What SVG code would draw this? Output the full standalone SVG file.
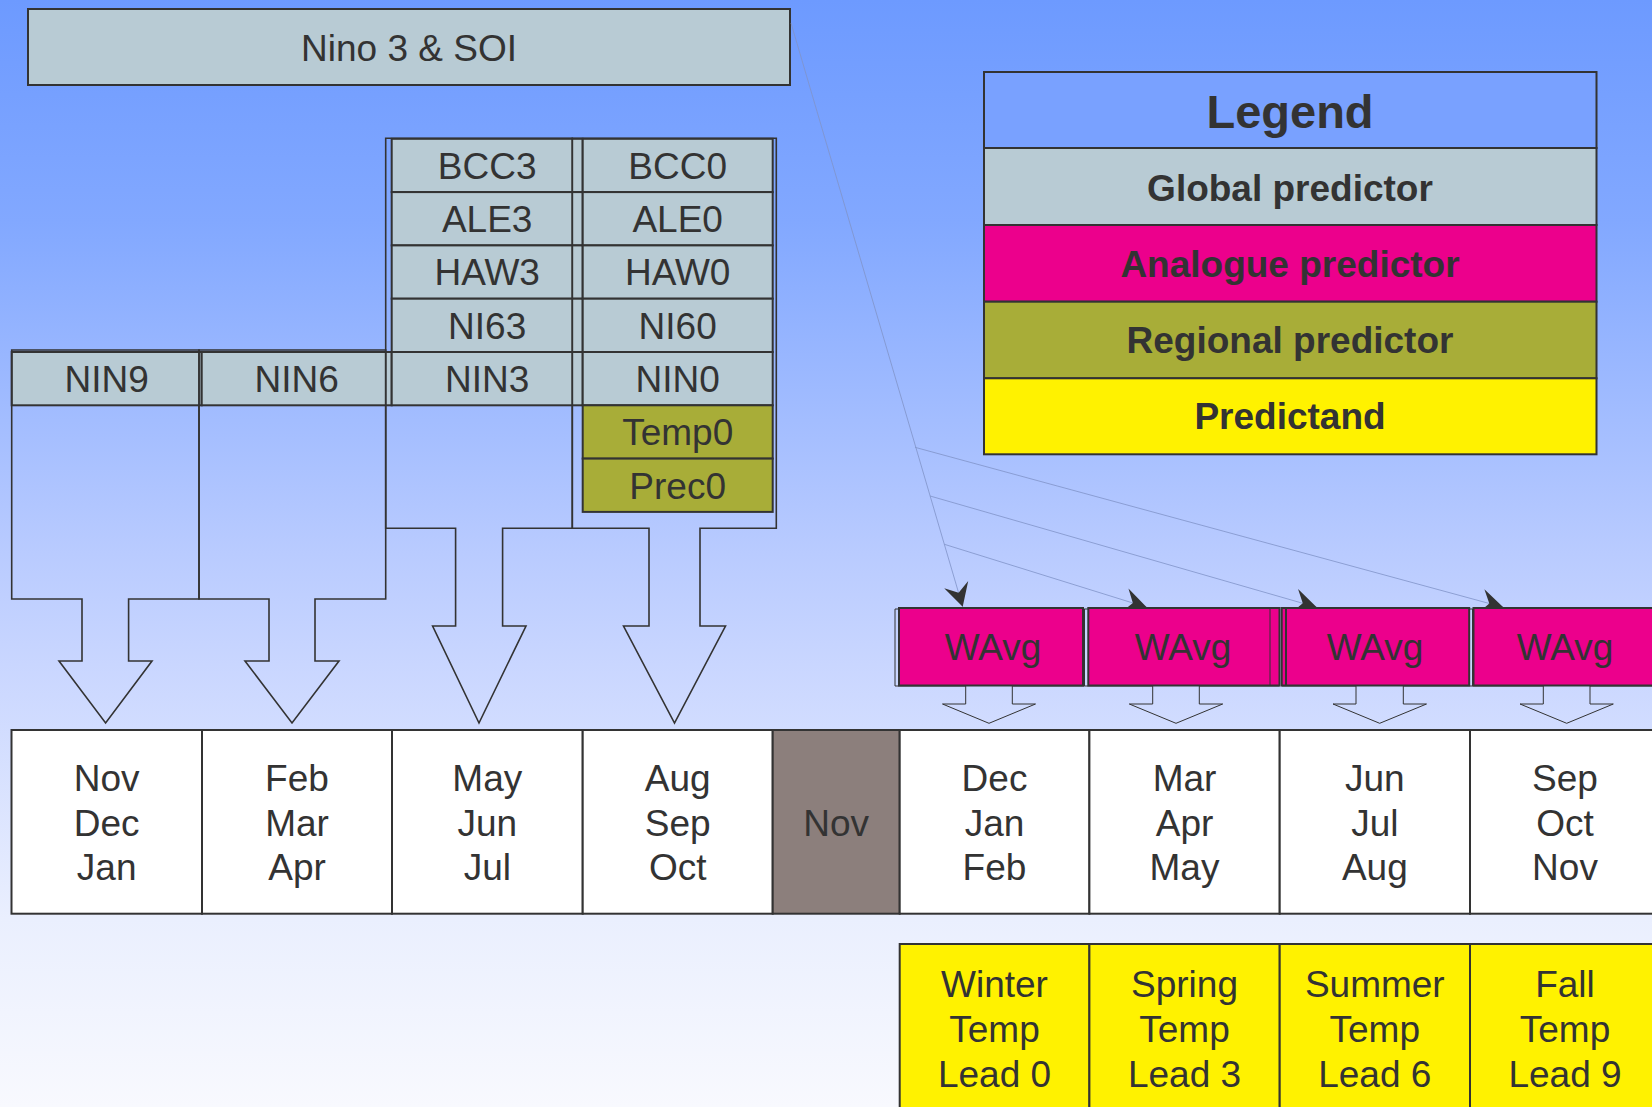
<svg xmlns="http://www.w3.org/2000/svg" width="1652" height="1107" viewBox="0 0 1652 1107">
<defs>
<linearGradient id="bg" x1="0" y1="0" x2="0" y2="1">
<stop offset="0" stop-color="#6d9aff"/>
<stop offset="0.2" stop-color="#82a8ff"/>
<stop offset="0.5" stop-color="#b9cbff"/>
<stop offset="0.6" stop-color="#c9d6ff"/>
<stop offset="0.83" stop-color="#eaeffe"/>
<stop offset="1" stop-color="#f8f9fe"/>
</linearGradient>
<marker id="ah" viewBox="-25 -15 30 30" markerWidth="30" markerHeight="30" refX="0" refY="0" orient="auto" markerUnits="userSpaceOnUse">
<path d="M0,0 L-23,-12.5 L-14.5,0 L-23,12.5 Z" fill="#333"/>
</marker>
</defs>
<style>
text{font-family:"Liberation Sans",Arial,sans-serif;font-size:37px;fill:#333;text-anchor:middle}
.b{font-weight:bold}
.g{fill:#b8cbd4;stroke:#333;stroke-width:2}
.m{fill:#ec008c;stroke:#333;stroke-width:2}
.o{fill:#a8ad38;stroke:#333;stroke-width:2}
.y{fill:#fff200;stroke:#333;stroke-width:2}
.w{fill:#fff;stroke:#333;stroke-width:2}
.n{fill:#8c7f7c;stroke:#333;stroke-width:2}
.f{fill:none;stroke:#333;stroke-width:1.6;stroke-linejoin:miter}
.t{fill:none;stroke:#333;stroke-width:1}
.c{fill:none;stroke:#8093c8;stroke-width:0.8}
</style>
<rect x="0" y="0" width="1652" height="1107" fill="url(#bg)"/>

<g id="nino3soi">
<rect class="g" x="28" y="9" width="762" height="76"/>
<text x="409" y="61">Nino 3 &amp; SOI</text>
</g>

<g id="legend">
<rect x="984" y="72" width="612.5" height="76" fill="#79a1ff" stroke="#333" stroke-width="2"/>
<text class="b" x="1290" y="128" style="font-size:47px">Legend</text>
<rect class="g" x="984" y="148" width="612.5" height="77"/>
<text class="b" x="1290" y="201">Global predictor</text>
<rect class="m" x="984" y="225" width="612.5" height="76.7"/>
<text class="b" x="1290" y="277">Analogue predictor</text>
<rect class="o" x="984" y="301.7" width="612.5" height="76.6"/>
<text class="b" x="1290" y="353">Regional predictor</text>
<rect class="y" x="984" y="378.3" width="612.5" height="76"/>
<text class="b" x="1290" y="429">Predictand</text>
</g>

<g id="predictors">
<g id="nin9"><rect class="g" x="11.7" y="352" width="190" height="53.3"/><text x="106.7" y="392">NIN9</text></g>
<g id="nin6"><rect class="g" x="201.7" y="352" width="190" height="53.3"/><text x="296.7" y="392">NIN6</text></g>
<g id="bcc3"><rect class="g" x="391.7" y="138.8" width="191" height="53.3"/><text x="487.2" y="178.8">BCC3</text></g>
<g id="ale3"><rect class="g" x="391.7" y="192.1" width="191" height="53.3"/><text x="487.2" y="232.1">ALE3</text></g>
<g id="haw3"><rect class="g" x="391.7" y="245.4" width="191" height="53.3"/><text x="487.2" y="285.4">HAW3</text></g>
<g id="ni63"><rect class="g" x="391.7" y="298.7" width="191" height="53.3"/><text x="487.2" y="338.7">NI63</text></g>
<g id="nin3"><rect class="g" x="391.7" y="352" width="191" height="53.3"/><text x="487.2" y="392">NIN3</text></g>
<g id="bcc0"><rect class="g" x="582.7" y="138.8" width="190" height="53.3"/><text x="677.7" y="178.8">BCC0</text></g>
<g id="ale0"><rect class="g" x="582.7" y="192.1" width="190" height="53.3"/><text x="677.7" y="232.1">ALE0</text></g>
<g id="haw0"><rect class="g" x="582.7" y="245.4" width="190" height="53.3"/><text x="677.7" y="285.4">HAW0</text></g>
<g id="ni60"><rect class="g" x="582.7" y="298.7" width="190" height="53.3"/><text x="677.7" y="338.7">NI60</text></g>
<g id="nin0"><rect class="g" x="582.7" y="352" width="190" height="53.3"/><text x="677.7" y="392">NIN0</text></g>
<g id="temp0"><rect class="o" x="582.7" y="405.3" width="190" height="53.3"/><text x="677.7" y="445.3">Temp0</text></g>
<g id="prec0"><rect class="o" x="582.7" y="458.6" width="190" height="53.3"/><text x="677.7" y="498.6">Prec0</text></g>
</g>

<g id="connectors">
<path class="f" d="M11.7,350 L199,350 L199,599 L128.6,599 L128.6,661 L152,661 L105.6,723 L59,661 L82,661 L82,599 L11.7,599 Z"/>
<path class="f" d="M199,350 L385.7,350 L385.7,599 L315,599 L315,661 L339,661 L292,723 L245,661 L269,661 L269,599 L199,599 Z"/>
<path class="f" d="M385.7,138.3 L572.3,138.3 L572.3,528.3 L502.6,528.3 L502.6,626 L526,626 L479,723 L432.6,626 L455.6,626 L455.6,528.3 L385.7,528.3 Z"/>
<path class="f" d="M572.3,138.3 L776.3,138.3 L776.3,528.3 L700,528.3 L700,626 L725.5,626 L674.5,723 L623.5,626 L649,626 L649,528.3 L572.3,528.3 Z"/>
<path class="t" d="M895,609 L1084.5,609 L1084.5,686 L1012.3,686 L1012.3,704 L1035.5,704 L989,723.3 L942.5,704 L965.7,704 L965.7,686 L895,686 Z"/>
<path class="t" d="M1084.5,609 L1279.5,609 L1279.5,686 L1199.3,686 L1199.3,704 L1222.7,704 L1176,723.3 L1129.3,704 L1152.7,704 L1152.7,686 L1084.5,686 Z"/>
<path class="t" d="M1281.7,609 L1472.7,609 L1472.7,686 L1403.3,686 L1403.3,704 L1426.5,704 L1379.7,723.3 L1333,704 L1356,704 L1356,686 L1281.7,686 Z"/>
<path class="t" d="M1472.7,609 L1700,609 L1700,686 L1590,686 L1590,704 L1613.3,704 L1566.7,723.3 L1520,704 L1543.3,704 L1543.3,686 L1472.7,686 Z"/>
<line class="c" x1="791" y1="23" x2="962.7" y2="606.7" marker-end="url(#ah)"/>
<line class="c" x1="944.4" y1="544.3" x2="1146.7" y2="607.3" marker-end="url(#ah)"/>
<line class="c" x1="930.1" y1="496" x2="1316.7" y2="607.3" marker-end="url(#ah)"/>
<line class="c" x1="915" y1="447.3" x2="1503.3" y2="607.3" marker-end="url(#ah)"/>
</g>

<g id="wavg1"><rect class="m" x="899" y="608" width="184" height="77.5"/><text x="993" y="660">WAvg</text></g>
<g id="wavg2"><rect class="m" x="1088.3" y="608" width="191.2" height="77.5"/><line class="t" x1="1270" y1="608" x2="1270" y2="685.5"/><text x="1183" y="660">WAvg</text></g>
<g id="wavg3"><rect class="m" x="1281.7" y="608" width="187.5" height="77.5"/><line class="t" x1="1286" y1="608" x2="1286" y2="685.5" style="stroke-width:2"/><text x="1375" y="660">WAvg</text></g>
<g id="wavg4"><rect class="m" x="1473.5" y="608" width="230" height="77.5"/><text x="1565" y="660">WAvg</text></g>

<g id="m-ndj"><rect class="w" x="11.5" y="730" width="190.5" height="183.7"/><text x="106.7" y="791">Nov</text><text x="106.7" y="836">Dec</text><text x="106.7" y="880">Jan</text></g>
<g id="m-fma"><rect class="w" x="202" y="730" width="190" height="183.7"/><text x="297" y="791">Feb</text><text x="297" y="836">Mar</text><text x="297" y="880">Apr</text></g>
<g id="m-mjj"><rect class="w" x="392" y="730" width="190.7" height="183.7"/><text x="487.3" y="791">May</text><text x="487.3" y="836">Jun</text><text x="487.3" y="880">Jul</text></g>
<g id="m-aso"><rect class="w" x="582.7" y="730" width="190" height="183.7"/><text x="677.7" y="791">Aug</text><text x="677.7" y="836">Sep</text><text x="677.7" y="880">Oct</text></g>
<g id="m-nov"><rect class="n" x="772.7" y="730" width="127" height="183.7"/><text x="836.2" y="836">Nov</text></g>
<g id="m-djf"><rect class="w" x="899.7" y="730" width="189.7" height="183.7"/><text x="994.5" y="791">Dec</text><text x="994.5" y="836">Jan</text><text x="994.5" y="880">Feb</text></g>
<g id="m-mam"><rect class="w" x="1089.4" y="730" width="190.3" height="183.7"/><text x="1184.5" y="791">Mar</text><text x="1184.5" y="836">Apr</text><text x="1184.5" y="880">May</text></g>
<g id="m-jja"><rect class="w" x="1279.7" y="730" width="190.3" height="183.7"/><text x="1374.8" y="791">Jun</text><text x="1374.8" y="836">Jul</text><text x="1374.8" y="880">Aug</text></g>
<g id="m-son"><rect class="w" x="1470" y="730" width="240" height="183.7"/><text x="1565" y="791">Sep</text><text x="1565" y="836">Oct</text><text x="1565" y="880">Nov</text></g>

<g id="p-winter"><rect class="y" x="899.7" y="944" width="189.7" height="180"/><text x="994.5" y="997">Winter</text><text x="994.5" y="1042">Temp</text><text x="994.5" y="1087">Lead 0</text></g>
<g id="p-spring"><rect class="y" x="1089.4" y="944" width="190.3" height="180"/><text x="1184.5" y="997">Spring</text><text x="1184.5" y="1042">Temp</text><text x="1184.5" y="1087">Lead 3</text></g>
<g id="p-summer"><rect class="y" x="1279.7" y="944" width="190.3" height="180"/><text x="1374.8" y="997">Summer</text><text x="1374.8" y="1042">Temp</text><text x="1374.8" y="1087">Lead 6</text></g>
<g id="p-fall"><rect class="y" x="1470" y="944" width="240" height="180"/><text x="1565" y="997">Fall</text><text x="1565" y="1042">Temp</text><text x="1565" y="1087">Lead 9</text></g>
</svg>
